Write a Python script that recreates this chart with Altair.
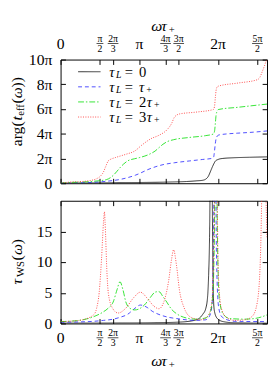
import altair as alt
import pandas as pd

F = "Liberation Serif"

# ---------------- data: x = omega*tau_+ in units of pi ----------------
# upper panel: arg(t_eff(omega)) in units of pi
arg0_x = [0, 0.5, 1.0, 1.4, 1.6, 1.72, 1.806, 1.843, 1.868, 1.88, 1.895, 1.91, 1.93, 1.95, 1.967, 2.0, 2.053, 2.2, 2.4, 2.622]
arg0_y = [0, 0.03, 0.06, 0.1, 0.14, 0.19, 0.24, 0.33, 0.48, 0.6, 0.82, 1.05, 1.35, 1.62, 1.8, 1.92, 2.0, 2.06, 2.1, 2.13]

arg1_x = [0, 0.3, 0.45, 0.6, 0.75, 0.85, 0.95, 1.014, 1.1, 1.2, 1.3, 1.45, 1.633, 1.8, 1.93, 1.945, 1.955, 1.965, 1.975, 1.99, 2.01, 2.1, 2.251, 2.45, 2.622]
arg1_y = [0, 0.04, 0.09, 0.17, 0.3, 0.45, 0.65, 0.82, 1.08, 1.32, 1.5, 1.66, 1.8, 1.92, 2.02, 2.15, 2.6, 3.2, 3.6, 3.82, 3.9, 3.98, 4.05, 4.13, 4.23]

arg2_x = [0, 0.05, 0.42, 0.581, 0.668, 0.71, 0.754, 0.8, 0.853, 0.94, 1.0, 1.126, 1.2, 1.25, 1.3, 1.35, 1.435, 1.633, 1.843, 1.94, 1.955, 1.965, 1.975, 1.99, 2.004, 2.251, 2.622]
arg2_y = [0, 0.03, 0.16, 0.29, 0.63, 0.92, 1.25, 1.55, 1.81, 1.98, 2.07, 2.34, 2.6, 2.88, 3.15, 3.35, 3.52, 3.7, 3.85, 3.98, 4.2, 4.8, 5.5, 5.85, 5.96, 6.14, 6.4]

arg3_x = [0, 0.05, 0.334, 0.458, 0.51, 0.544, 0.57, 0.606, 0.64, 0.693, 0.829, 0.94, 1.039, 1.163, 1.224, 1.262, 1.348, 1.41, 1.447, 1.509, 1.72, 1.94, 1.955, 1.965, 1.975, 1.99, 2.004, 2.251, 2.498, 2.53, 2.56, 2.59, 2.61, 2.622]
arg3_y = [0, 0.05, 0.18, 0.37, 0.6, 0.9, 1.3, 1.81, 1.95, 2.07, 2.34, 2.6, 3.12, 3.65, 3.8, 3.92, 4.3, 4.83, 5.35, 5.6, 5.75, 5.96, 6.2, 6.9, 7.5, 7.8, 7.85, 8.1, 8.37, 8.55, 9.0, 9.5, 9.85, 9.95]

# lower panel: Wigner-Smith delay tau_WS(omega)
tws0_x = [0, 1.101, 1.472, 1.657, 1.756, 1.806, 1.843, 1.868, 1.88, 1.892, 1.905, 1.917, 1.93, 1.942, 1.954, 1.991, 2.066, 2.214, 2.622]
tws0_y = [0.05, 0.1, 0.2, 0.4, 0.8, 1.5, 2.4, 4.5, 7.8, 14, 30, 40, 15, 4, 2, 0.8, 0.3, 0.1, 0.05]

tws1_x = [0, 0.235, 0.42, 0.544, 0.668, 0.754, 0.853, 0.928, 1.014, 1.101, 1.163, 1.224, 1.286, 1.373, 1.472, 1.719, 1.843, 1.892, 1.923, 1.942, 1.96, 1.979, 2.004, 2.041, 2.115, 2.214, 2.622]
tws1_y = [0.2, 0.25, 0.35, 0.5, 0.7, 1.0, 1.5, 2.3, 3.0, 2.6, 2.0, 1.6, 1.3, 1.0, 0.8, 0.5, 0.6, 1.2, 3, 12, 50, 12, 3, 1.2, 0.6, 0.35, 0.3]

tws2_x = [0, 0.235, 0.42, 0.544, 0.606, 0.668, 0.717, 0.754, 0.792, 0.829, 0.878, 0.94, 1.002, 1.064, 1.138, 1.2, 1.249, 1.299, 1.348, 1.41, 1.472, 1.596, 1.719, 1.843, 1.892, 1.93, 1.954, 1.973, 1.991, 2.016, 2.066, 2.152, 2.338, 2.461, 2.56, 2.622]
tws2_y = [0.3, 0.5, 1.1, 1.9, 2.5, 3.5, 5.5, 6.8, 5.5, 3.5, 2.5, 2.2, 2.4, 3.0, 4.2, 5.1, 5.2, 4.4, 3.5, 2.3, 1.6, 0.9, 0.7, 0.9, 1.6, 4, 15, 50, 15, 4, 1.5, 0.8, 0.7, 0.8, 1.1, 1.4]

tws3_x = [0, 0.235, 0.42, 0.458, 0.49, 0.52, 0.545, 0.557, 0.565, 0.59, 0.606, 0.655, 0.73, 0.829, 0.928, 1.014, 1.101, 1.187, 1.249, 1.311, 1.373, 1.41, 1.435, 1.472, 1.509, 1.571, 1.657, 1.781, 1.868, 1.917, 1.942, 1.96, 1.973, 1.985, 2.004, 2.041, 2.115, 2.214, 2.338, 2.437, 2.499, 2.536, 2.56, 2.579, 2.598, 2.61, 2.622]
tws3_y = [0.3, 0.5, 1.4, 2.5, 5, 10.5, 16.5, 18.2, 16.5, 8, 5, 2.6, 1.7, 2.5, 4.2, 5.1, 4.1, 2.8, 2.4, 3.5, 7, 10.5, 12, 9.5, 5.5, 2.5, 1.0, 0.6, 1.2, 3, 10, 30, 60, 30, 8, 2.5, 0.9, 0.5, 0.6, 1.2, 3.5, 10, 25, 45, 30, 20, 14]

# tick values / labels
xtick_vals = [0, 1/2, 2/3, 1, 4/3, 3/2, 2, 5/2]
xtick_num = ["0", "π", "2π", "π", "4π", "3π", "2π", "5π"]
xtick_den = ["", "2", "3", "", "3", "2", "", "2"]
ytick_top = [0, 2, 4, 6, 8, 10]
ytick_bot = [0, 5, 10, 15]

# ---------------- layout ----------------
W, H1, H2 = 212, 127, 126
xscale = alt.Scale(domain=[0, 2.622], nice=False, zero=False)
ys_top = alt.Scale(domain=[0, 10], nice=False)
ys_bot = alt.Scale(domain=[0, 20], nice=False)

styles = [("#000000", [1, 0]), ("#2020ff", [4, 3]), ("#00dd00", [6, 2, 1.5, 2]), ("#ff2020", [1, 1.5])]
LW = 0.8


def tick_axis(orient, vals, labels=False, **kw):
    return alt.Axis(orient=orient, values=vals, labels=labels, ticks=True, tickSize=5, offset=-5,
                    domain=False, grid=False, title=None, tickColor="black", tickWidth=1, **kw)


def line(xs, ys, st, yscale, xaxis=None, yaxis=None):
    df = pd.DataFrame({"x": xs, "y": ys})
    return alt.Chart(df).mark_line(color=st[0], strokeDash=st[1], strokeWidth=LW, clip=True,
                                   interpolate="monotone").encode(
        x=alt.X("x:Q", scale=xscale, axis=xaxis),
        y=alt.Y("y:Q", scale=yscale, axis=yaxis))


def pieces(rows, angle=0):
    out = []
    for italic in (False, True):
        sub = [dict(t=t, px=x, py=y, fs=s) for (t, x, y, s, it) in rows if it == italic]
        if not sub:
            continue
        out.append(alt.Chart(alt.Data(values=sub)).mark_text(
            font=F, fontStyle="italic" if italic else "normal", align="left", baseline="middle",
            angle=angle, color="black").encode(
            x=alt.X("px:Q", scale=None, axis=None), y=alt.Y("py:Q", scale=None, axis=None),
            text="t:N", size=alt.Size("fs:Q", scale=None, legend=None)))
    return out


def xlabels(y_single, y_num, y_bar, y_den):
    df = pd.DataFrame({"v": xtick_vals, "num": xtick_num, "den": xtick_den})
    base = alt.Chart(df)
    X = alt.X("v:Q", scale=xscale, axis=None)
    singles = base.transform_filter("datum.den == ''").mark_text(
        font=F, fontSize=16, baseline="middle", align="center", color="black").encode(
        x=X, y=alt.value(y_single), text="num:N")
    nums = base.transform_filter("datum.den != ''").mark_text(
        font=F, fontSize=10, baseline="middle", align="center", color="black").encode(
        x=X, y=alt.value(y_num), text="num:N")
    dens = base.transform_filter("datum.den != ''").mark_text(
        font=F, fontSize=10, baseline="middle", align="center", color="black").encode(
        x=X, y=alt.value(y_den), text="den:N")
    bar_s = base.transform_filter("datum.den != '' && length(datum.num) == 1").mark_rule(
        xOffset=-3.5, x2Offset=3.5, strokeWidth=0.7, color="black").encode(
        x=X, x2="v:Q", y=alt.value(y_bar))
    bar_l = base.transform_filter("datum.den != '' && length(datum.num) > 1").mark_rule(
        xOffset=-5.5, x2Offset=5.5, strokeWidth=0.7, color="black").encode(
        x=X, x2="v:Q", y=alt.value(y_bar))
    return [singles, nums, dens, bar_s, bar_l]


def xtitle(yc):
    x0 = 93
    return pieces([("ω", x0, yc, 16, True), ("τ", x0 + 10.5, yc, 16, True), ("+", x0 + 18, yc + 4, 11, False)])


ylab_top = alt.Axis(orient="left", values=ytick_top, labelExpr="datum.value == 0 ? '0' : datum.value + 'π'",
                    ticks=True, tickSize=5, offset=-5, domain=False, grid=False, title=None,
                    tickColor="black", labelFont=F, labelFontSize=16, labelPadding=9, labelColor="black")
ylab_bot = alt.Axis(orient="left", values=ytick_bot, ticks=True, tickSize=5, offset=-5, domain=False,
                    grid=False, title=None, tickColor="black", labelFont=F, labelFontSize=16,
                    labelPadding=9, labelColor="black")

# ---------------- upper panel ----------------
top_lines = [
    line(arg0_x, arg0_y, styles[0], ys_top, tick_axis("bottom", xtick_vals), ylab_top),
    line(arg1_x, arg1_y, styles[1], ys_top, tick_axis("top", xtick_vals), tick_axis("right", ytick_top)),
    line(arg2_x, arg2_y, styles[2], ys_top),
    line(arg3_x, arg3_y, styles[3], ys_top),
]

# legend
leg_y = [12.5, 28, 43.5, 59]
leg_samples = []
for st, yy in zip(styles, leg_y):
    leg_samples.append(alt.Chart(alt.Data(values=[{"a": 18, "b": 41, "c": yy}])).mark_rule(
        color=st[0], strokeDash=st[1], strokeWidth=LW).encode(
        x=alt.X("a:Q", scale=None, axis=None), x2="b:Q", y=alt.Y("c:Q", scale=None, axis=None)))
leg_rows = []
vals = [("0", None), (None, "τ"), ("2", "τ"), ("3", "τ")]
for (digit, tau), yy in zip(vals, leg_y):
    leg_rows += [("τ", 50, yy, 15, True), ("L", 57, yy + 3, 10, True), ("=", 66, yy, 15, False)]
    xx = 80.5
    if digit:
        leg_rows.append((digit, xx, yy, 15, False))
        xx += 8
    if tau:
        leg_rows.append(("τ", xx, yy, 15, True))
        leg_rows.append(("+", xx + 7.5, yy + 3, 10, False))

ytitle_top = pieces([
    ("arg(", -45, 89, 16, False), ("t", -45, 62.6, 16, True), ("eff", -41, 57.7, 11, False),
    ("(", -45, 45.2, 16, False), ("ω", -45, 39.6, 16, True), ("))", -45, 28.6, 16, False)], angle=270)

top = alt.layer(*top_lines, *leg_samples, *pieces(leg_rows), *xlabels(-15.5, -21.5, -16.5, -10.5),
                *xtitle(-34), *ytitle_top).properties(width=W, height=H1)

# ---------------- lower panel ----------------
bot_lines = [
    line(tws0_x, tws0_y, styles[0], ys_bot, tick_axis("bottom", xtick_vals), ylab_bot),
    line(tws1_x, tws1_y, styles[1], ys_bot, tick_axis("top", xtick_vals), tick_axis("right", ytick_bot)),
    line(tws2_x, tws2_y, styles[2], ys_bot),
    line(tws3_x, tws3_y, styles[3], ys_bot),
]
ytitle_bot = pieces([
    ("τ", -45, 86, 16, True), ("WS", -41, 78.3, 11, False),
    ("(", -45, 61.3, 16, False), ("ω", -45, 55.7, 16, True), (")", -45, 44.6, 16, False)], angle=270)

bottom = alt.layer(*bot_lines, *xlabels(H2 + 15, H2 + 9.5, H2 + 14.7, H2 + 20.5),
                   *xtitle(H2 + 39), *ytitle_bot).properties(width=W, height=H2)

chart = alt.vconcat(top, bottom, spacing=8).properties(
    padding={"left": 0, "top": 5, "right": 0, "bottom": 0}
).configure_view(stroke="black", strokeWidth=1).configure_axis(labelFont=F)

chart.save("out.html", embed_options={"renderer": "svg", "actions": False})
